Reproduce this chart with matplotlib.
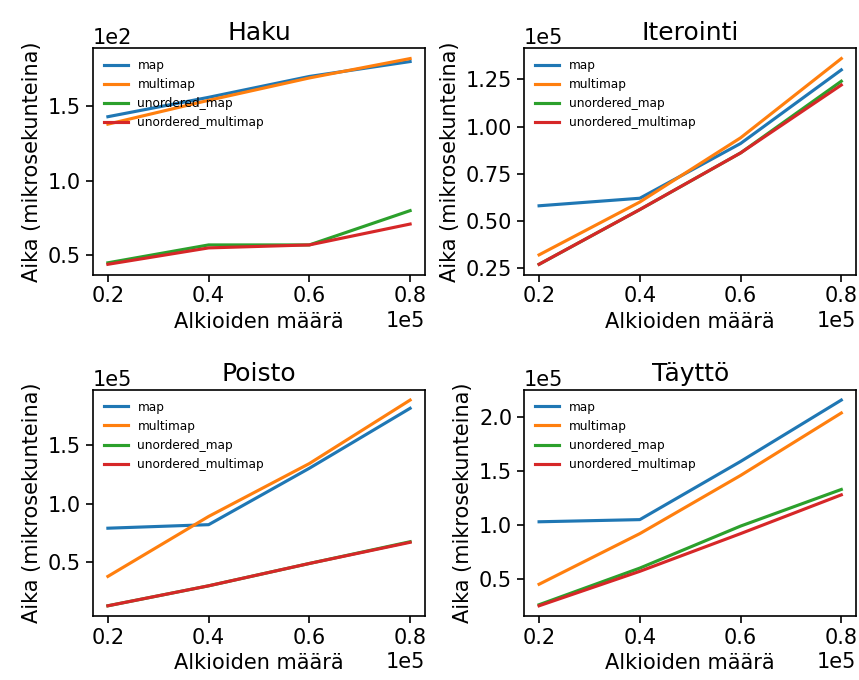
import numpy as np
import matplotlib.pyplot as plt

# alkioiden määrä
x = [20000, 40000, 60000, 80000]
labels = ["map", "multimap", "unordered_map", "unordered_multimap"]

# ajat mikrosekunteina
haku_map = [143, 156, 170, 180]
haku_multimap = [138, 154, 169, 182]
haku_umap = [45, 57, 57, 80]
haku_umultimap = [44, 55, 57, 71]

iter_map = [58000, 62000, 91000, 130000]
iter_multimap = [32000, 60000, 94000, 136000]
iter_umap = [27000, 56000, 86000, 124000]
iter_umultimap = [27000, 56000, 86000, 122000]

poisto_map = [79000, 82000, 130000, 181000]
poisto_multimap = [38000, 89000, 134000, 188000]
poisto_umap = [13000, 30000, 49000, 67500]
poisto_umultimap = [13000, 30000, 49000, 67000]

taytto_map = [103000, 105000, 159000, 216000]
taytto_multimap = [45000, 92000, 146000, 204000]
taytto_umap = [26000, 60000, 99000, 133000]
taytto_umultimap = [25000, 57000, 92000, 128000]

plots = [
    ("Haku", [haku_map, haku_multimap, haku_umap, haku_umultimap]),
    ("Iterointi", [iter_map, iter_multimap, iter_umap, iter_umultimap]),
    ("Poisto", [poisto_map, poisto_multimap, poisto_umap, poisto_umultimap]),
    ("Täyttö", [taytto_map, taytto_multimap, taytto_umap, taytto_umultimap]),
]

plt.rcParams['font.size'] = 15
fig = plt.figure(figsize=(8.59, 6.8), dpi=100)

for i, (title, series) in enumerate(plots):
    ax = plt.subplot(2, 2, i + 1)
    for y, lab in zip(series, labels):
        ax.plot(x, y, label=lab, linewidth=2.25)
    ax.set_title(title, fontsize=18)
    ax.set_xlabel("Alkioiden määrä")
    ax.set_ylabel("Aika (mikrosekunteina)")
    ax.ticklabel_format(axis='y', style='sci', scilimits=(0, 0))
    ax.ticklabel_format(axis='x', style='sci', scilimits=(5, 5))
    ax.legend(loc='upper left', fontsize=8.7, frameon=False)
    for sp in ax.spines.values():
        sp.set_linewidth(1.2)
    ax.tick_params(width=1.2, length=5)

plt.subplots_adjust(left=0.108, right=0.997, top=0.929, bottom=0.094,
                    wspace=0.297, hspace=0.509)
plt.savefig("out.png", dpi=100)
